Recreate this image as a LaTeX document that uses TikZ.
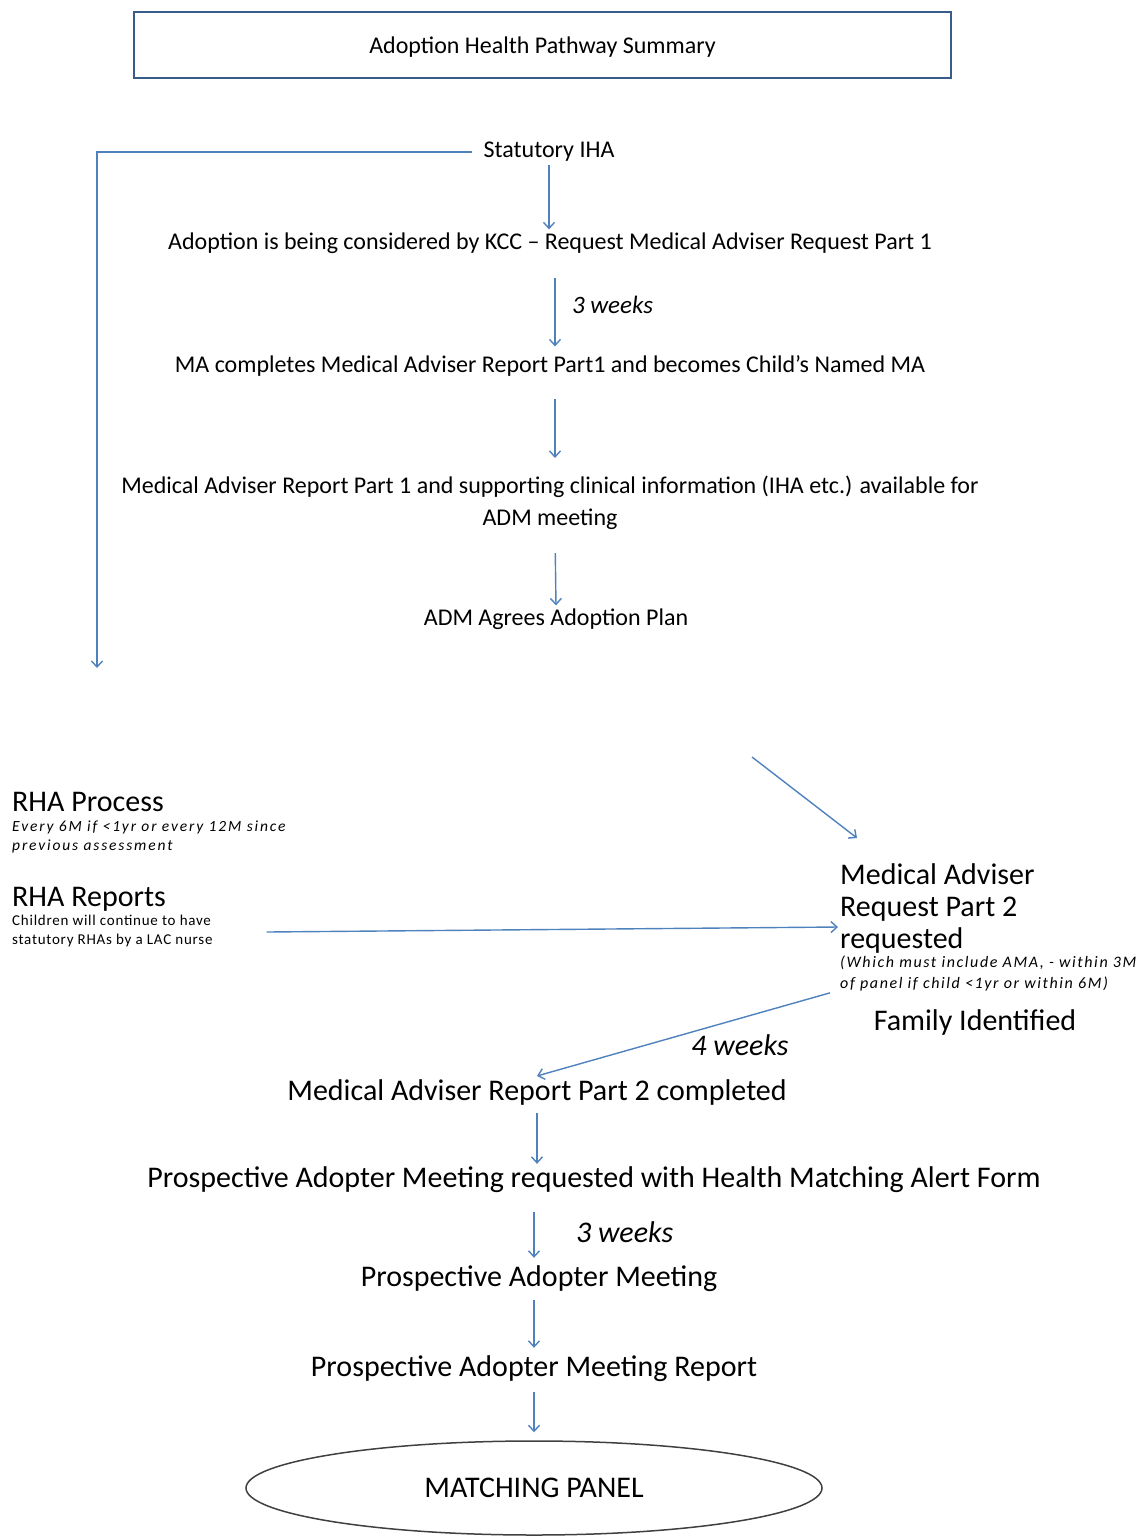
\documentclass[tikz,border=0pt]{standalone}
\usepackage{fontspec}
\setmainfont{Carlito}
\usepackage{tikz}
\usetikzlibrary{arrows, arrows.meta}
\usetikzlibrary{shapes.geometric}
\definecolor{flowblue}{RGB}{79,129,189}
\definecolor{navy}{RGB}{56,93,138}

\begin{document}
\begin{tikzpicture}[x=1pt,y=-1pt]
\tikzstyle{titlebox} = [draw=navy, line width=2.5pt, minimum width=817pt, minimum height=66pt, text depth=0pt, font=\fontsize{24}{28}\selectfont]
\tikzstyle{upper} = [font=\fontsize{24}{32}\selectfont, inner sep=3pt, align=center]
\tikzstyle{lower} = [font=\fontsize{30}{32}\selectfont, inner sep=3pt]
\tikzstyle{weeks} = [font=\fontsize{25}{28}\selectfont\itshape]
\tikzstyle{bigweeks} = [font=\fontsize{30}{32}\selectfont\itshape]
\tikzstyle{sidetitle} = [anchor=west, align=left, inner sep=2pt, font=\fontsize{30}{32}\selectfont]
\tikzstyle{sidenote} = [anchor=west, align=left, inner sep=2pt, font=\fontsize{15}{19}\selectfont\addfontfeature{LetterSpace=5}]
\tikzstyle{italicnote} = [sidenote, font=\fontsize{15.5}{19}\selectfont\itshape\addfontfeature{LetterSpace=12}]
\tikzstyle{panel} = [ellipse, draw=black!75, line width=1.5pt, minimum width=576pt, minimum height=94pt, font=\fontsize{30}{32}\selectfont]
\tikzstyle{flow} = [-{Straight Barb[length=6pt,width=11pt]}, draw=flowblue, line width=1.4pt]

\useasboundingbox (0,0) rectangle (1141,1537);

\node[titlebox] (title) at (542.5,45) {Adoption Health Pathway Summary};

\node[upper] (iha) at (549,152) {Statutory IHA};
\node[upper] (consider) at (550,243) {Adoption is being considered by KCC – Request Medical Adviser Request Part 1};
\node[upper] (macomp) at (550,366) {MA completes Medical Adviser Report Part1 and becomes Child’s Named MA};
\node[upper] (report1) at (550,503) {Medical Adviser Report Part 1 and supporting clinical information (IHA etc.) available for\\ADM meeting};
\node[upper] (adm) at (556,619) {ADM Agrees Adoption Plan};
\coordinate (rhadown) at (97,668);

\node[sidetitle] (rhaproc) at (10,802) {RHA Process};
\node[italicnote] (rhaprocnote) at (10,837) {Every 6M if <1yr or every 12M since\\previous assessment};
\node[sidetitle] (rhareps) at (10,899) {RHA Reports};
\node[sidenote] (rharepsnote) at (10,931) {Children will continue to have\\statutory RHAs by a LAC nurse};

\coordinate (diagstart) at (752,757);
\coordinate (diagend) at (857,838);
\node[sidetitle] (mareq) at (838,908) {Medical Adviser\\Request Part 2\\requested};
\node[italicnote, font=\fontsize{16}{21}\selectfont\itshape\addfontfeature{LetterSpace=10}] (mareqnote) at (838,973) {(Which must include AMA, - within 3M\\of panel if child <1yr or within 6M)};
\node[lower] (family) at (975,1022) {Family Identified};

\node[lower] (part2) at (537,1092) {Medical Adviser Report Part 2 completed};
\node[lower] (pamreq) at (594,1180) {Prospective Adopter Meeting requested with Health Matching Alert Form};
\node[lower] (pam) at (539,1279) {Prospective Adopter Meeting};
\node[lower] (pamrep) at (534,1369) {Prospective Adopter Meeting Report};
\node[panel] (panel) at (534,1488) {MATCHING PANEL};

\draw[flow] ([xshift=-8pt]iha.west) -| (rhadown);
\draw[flow] (iha.south) -- (iha.south |- consider.north);
\draw[flow, shorten <=21pt, shorten >=6pt] ([xshift=5pt]consider.south) -- node[weeks, right=13pt] {3 weeks} ([xshift=5pt]macomp.north);
\draw[flow, shorten <=19pt, shorten >=15pt] ([xshift=5pt]macomp.south) -- ([xshift=5pt]report1.north);
\draw[flow, shorten <=20pt] ([xshift=5pt]report1.south) -- (adm.north);
\draw[flow] (diagstart) -- (diagend);
\draw[flow] ([xshift=52pt,yshift=-1pt]rharepsnote.east) -- ([yshift=-19pt]mareq.west);
\draw[flow] ([xshift=-8pt]mareqnote.south west) -- node[bigweeks, pos=0.48, below right=-2pt] {4 weeks} (part2.north);
\draw[flow, shorten <=5pt] (part2.south) -- (part2.south |- pamreq.north);
\draw[flow, shorten <=16pt, shorten >=5pt] (pamreq.south -| panel) -- node[bigweeks, right=38pt, yshift=-3pt] {3 weeks} (pam.north -| panel);
\draw[flow, shorten <=5pt, shorten >=5pt] (pam.south -| panel) -- (pamrep.north -| panel);
\draw[flow, shorten <=7pt, shorten >=8pt] (pamrep.south -| panel) -- (panel.north);
\end{tikzpicture}
\end{document}
